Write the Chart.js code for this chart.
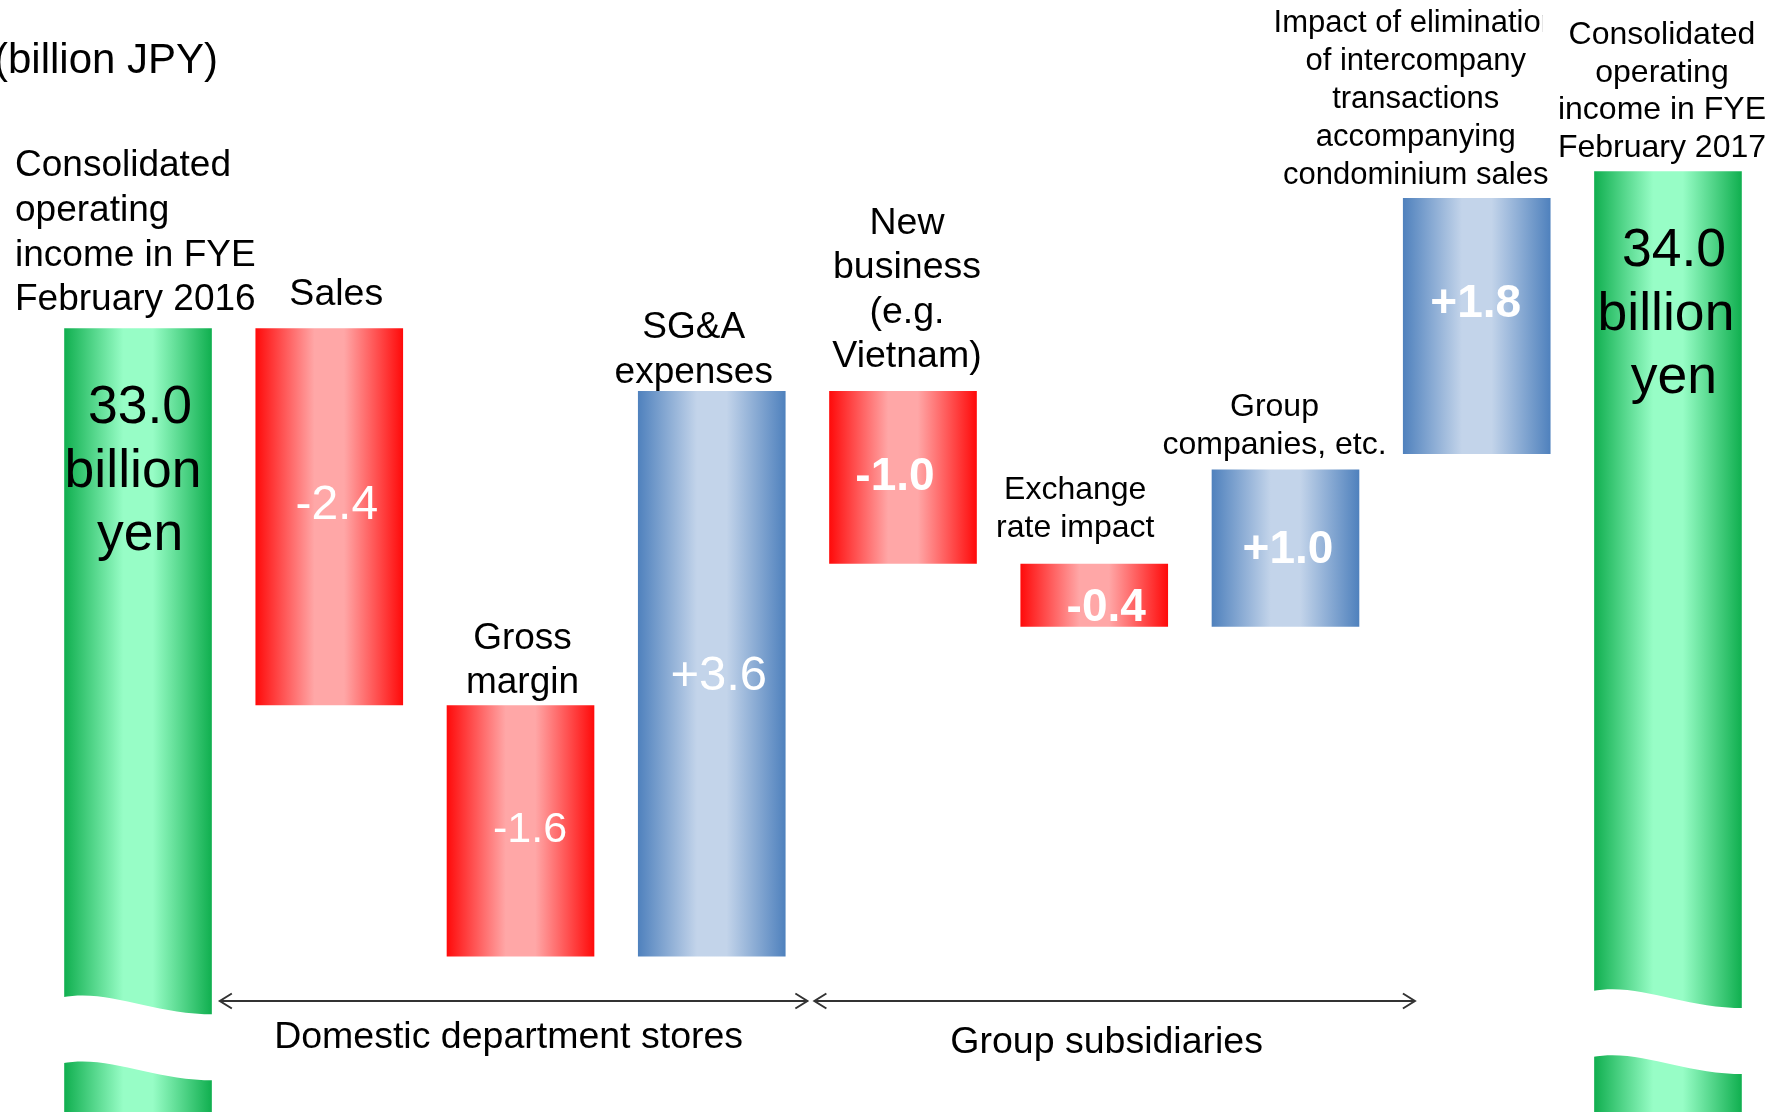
<!DOCTYPE html>
<html>
<head>
<meta charset="utf-8">
<title>Operating income bridge</title>
<script src="https://cdn.jsdelivr.net/npm/chart.js@4.4.1/dist/chart.umd.min.js"></script>
<style>
  html, body { margin: 0; padding: 0; background: #fff; overflow: hidden; }
  canvas { display: block; }
</style>
</head>
<body>
<canvas id="grafico" width="1780" height="1112"></canvas>
<script>
// Datos del grafico
const categorias = [
  ['Consolidated', 'operating', 'income in FYE', 'February 2016'],
  ['Sales'],
  ['Gross', 'margin'],
  ['SG&A', 'expenses'],
  ['New', 'business', '(e.g.', 'Vietnam)'],
  ['Exchange', 'rate impact'],
  ['Group', 'companies, etc.'],
  ['Impact of elimination', 'of intercompany', 'transactions', 'accompanying', 'condominium sales'],
  ['Consolidated', 'operating', 'income in FYE', 'February 2017']
];
const barLow  = [27.5, 30.6, 29.0, 29.0, 31.5, 31.1, 31.1, 32.2, 27.5];
const barHigh = [33.0, 33.0, 30.6, 32.6, 32.6, 31.5, 32.1, 33.83, 34.0];
const barKind = ['total', 'down', 'down', 'up', 'down', 'down', 'up', 'up', 'total'];
const valueLines = [
  ['33.0', 'billion', 'yen'], ['-2.4'], ['-1.6'], ['+3.6'],
  ['-1.0'], ['-0.4'], ['+1.0'], ['+1.8'], ['34.0', 'billion', 'yen']
];
const unitLabel = '(billion JPY)';
const groupLabels = ['Domestic department stores', 'Group subsidiaries'];

// Estilos y posiciones
const FONT = '"Liberation Sans", Arial, sans-serif';
const BAR_PCT = 0.772;
const paleta = {
  total: ['#10AF4F', '#97FDC6'],
  down:  ['#FF0A0A', '#FFA7A7'],
  up:    ['#4F81BD', '#C3D4EA']
};
const labelLayout = [
  { size: 37, lh: 44.7, gap: 18, left: 15 },
  { size: 37.5, lh: 45, gap: 23, dx: 7 },
  { size: 37, lh: 44, gap: 12, dx: 2 },
  { size: 37, lh: 45, gap: 8, dx: -18 },
  { size: 37.5, lh: 44.3, gap: 24, dx: 4 },
  { size: 32, lh: 38, gap: 27, dx: -19 },
  { size: 32, lh: 38, gap: 16, dx: -11 },
  { size: 31, lh: 38, gap: 14, dx: -61, clip: [1543, 1543, 1543, 1543, 1551] },
  { size: 32, lh: 37.7, gap: 14, dx: -6 }
];
const valueLayout = [
  { size: 53.5, top: 95, lh: 63.5, dxs: [2, -5, 2] },
  { size: 48, dx: 7.5, dy: 2.5 },
  { size: 43, dx: 9.5, dy: 11.5 },
  { size: 49, dx: 7, dy: 16 },
  { size: 46, bold: true, dx: -8, dy: 12.5 },
  { size: 46, bold: true, dx: 12, dy: 25.5 },
  { size: 46, bold: true, dx: 2.5, dy: 14.5 },
  { size: 46, bold: true, dx: -1, dy: -8.5 },
  { size: 53.5, top: 95, lh: 63.5, dxs: [6, -2, 6] }
];
const breakAt = { 0: 28.74, 8: 28.78 };

function rellenoBarra(context) {
  const chart = context.chart;
  const colores = paleta[barKind[context.dataIndex]];
  if (!chart.chartArea) return colores[0];
  const xs = chart.scales.x;
  const cx = xs.getPixelForValue(context.dataIndex);
  const half = xs.width / categorias.length * BAR_PCT / 2;
  const g = chart.ctx.createLinearGradient(cx - half, 0, cx + half, 0);
  g.addColorStop(0, colores[0]);
  g.addColorStop(0.4, colores[1]);
  g.addColorStop(0.6, colores[1]);
  g.addColorStop(1, colores[0]);
  return g;
}

function corte(ctx, left, right, yTop) {
  const w = right - left, thick = 66, drop = 17;
  ctx.beginPath();
  ctx.moveTo(left - 2, yTop);
  ctx.bezierCurveTo(left + 0.3 * w, yTop - 9, left + 0.6 * w, yTop + drop, right + 2, yTop + drop);
  ctx.lineTo(right + 2, yTop + drop + thick);
  ctx.bezierCurveTo(left + 0.6 * w, yTop + drop + thick, left + 0.3 * w, yTop - 9 + thick, left - 2, yTop + thick);
  ctx.closePath();
  ctx.fillStyle = '#fff';
  ctx.fill();
}

function flecha(ctx, x1, x2, y) {
  ctx.beginPath();
  ctx.moveTo(x1, y); ctx.lineTo(x2, y);
  ctx.moveTo(x1 + 12, y - 7.5); ctx.lineTo(x1, y); ctx.lineTo(x1 + 12, y + 7.5);
  ctx.moveTo(x2 - 12, y - 7.5); ctx.lineTo(x2, y); ctx.lineTo(x2 - 12, y + 7.5);
  ctx.stroke();
}

const textos = {
  id: 'textos',
  afterDatasetsDraw(chart) {
    const ctx = chart.ctx;
    const bars = chart.getDatasetMeta(0).data;
    const ys = chart.scales.y;
    const xs = chart.scales.x;
    ctx.save();

    // cortes en las barras totales
    Object.keys(breakAt).forEach(k => {
      const b = bars[k];
      corte(ctx, b.x - b.width / 2, b.x + b.width / 2, ys.getPixelForValue(breakAt[k]));
    });

    // etiquetas de categoria
    ctx.fillStyle = '#000';
    bars.forEach((b, i) => {
      const lay = labelLayout[i];
      const lines = categorias[i];
      const top = Math.min(b.y, b.base);
      ctx.font = lay.size + 'px ' + FONT;
      ctx.textAlign = lay.left !== undefined ? 'left' : 'center';
      ctx.textBaseline = 'alphabetic';
      const x = lay.left !== undefined ? lay.left : b.x + lay.dx;
      lines.forEach((t, j) => {
        const y = top - lay.gap - (lines.length - 1 - j) * lay.lh;
        if (lay.clip) {
          ctx.save();
          ctx.beginPath();
          ctx.rect(0, 0, lay.clip[j], chart.height);
          ctx.clip();
          ctx.fillText(t, x, y);
          ctx.restore();
        } else {
          ctx.fillText(t, x, y);
        }
      });
    });

    // valores dentro de las barras
    bars.forEach((b, i) => {
      const lay = valueLayout[i];
      const lines = valueLines[i];
      const top = Math.min(b.y, b.base);
      ctx.textAlign = 'center';
      ctx.font = (lay.bold ? 'bold ' : '') + lay.size + 'px ' + FONT;
      if (lines.length > 1) {
        ctx.fillStyle = '#000';
        lines.forEach((t, j) => ctx.fillText(t, b.x + lay.dxs[j], top + lay.top + j * lay.lh));
      } else {
        const mid = (b.y + b.base) / 2;
        ctx.fillStyle = '#fff';
        ctx.fillText(lines[0], b.x + lay.dx, mid + lay.dy);
      }
    });

    // unidad
    ctx.fillStyle = '#000';
    ctx.textAlign = 'left';
    ctx.font = '42px ' + FONT;
    ctx.fillText(unitLabel, -6, 73);

    // flechas de grupos
    const w = bars[0].width;
    const arrowY = 1001;
    const a1 = bars[0].x + w / 2 + 8;
    const mid = (xs.getPixelForValue(3) + xs.getPixelForValue(4)) / 2;
    const a2 = bars[7].x - w / 2 + 12;
    ctx.strokeStyle = '#333';
    ctx.lineWidth = 2;
    flecha(ctx, a1, mid, arrowY);
    flecha(ctx, mid + 7, a2, arrowY);

    ctx.font = '37.5px ' + FONT;
    ctx.textAlign = 'center';
    ctx.fillText(groupLabels[0], (a1 + mid) / 2 - 5, 1048);
    ctx.fillText(groupLabels[1], (mid + 7 + a2) / 2 - 8, 1053);
    ctx.restore();
  }
};

new Chart(document.getElementById('grafico'), {
  type: 'bar',
  data: {
    labels: categorias,
    datasets: [{
      data: barLow.map((lo, i) => [lo, barHigh[i]]),
      backgroundColor: rellenoBarra,
      borderWidth: 0,
      barPercentage: BAR_PCT,
      categoryPercentage: 1
    }]
  },
  options: {
    responsive: false,
    animation: false,
    layout: { padding: { left: 42.4, right: 16.4, top: 0, bottom: 0 } },
    scales: {
      x: { display: false },
      y: { display: false, min: 28.01, max: 35.09 }
    },
    plugins: {
      legend: { display: false },
      tooltip: { enabled: false }
    }
  },
  plugins: [textos]
});
</script>
</body>
</html>
